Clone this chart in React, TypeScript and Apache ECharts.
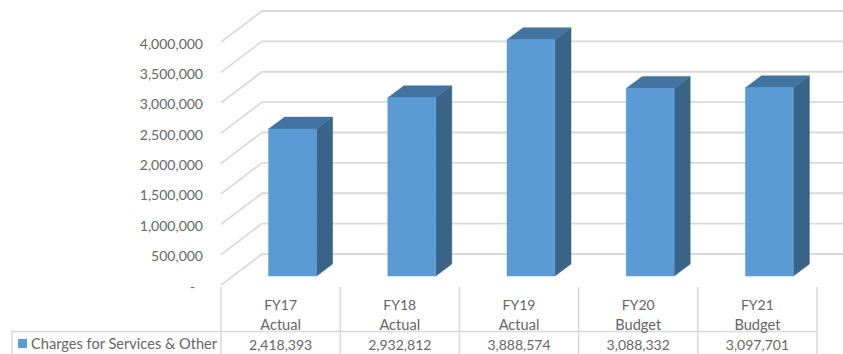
import React, { useEffect, useRef } from "react";
import * as echarts from "echarts";

const FONT = "Lato";
const TEXT = "#666666";
const RULE = "#D9D9D9";

const fiscalYears = ["FY17", "FY18", "FY19", "FY20", "FY21"];
const scenarios = ["Actual", "Actual", "Actual", "Budget", "Budget"];
const charges = [2418393, 2932812, 3888574, 3088332, 3097701];
const axisTicks = [0, 500000, 1000000, 1500000, 2000000, 2500000, 3000000, 3500000, 4000000];
const seriesName = "Charges for Services & Other";

const GRID = { left: 221, right: 26, top: 42, bottom: 67 };
// Perspective offsets of the 3D box: wall behind the front plane, bars between them.
const WALL = { dx: 41, dy: -31 };
const BAR = { dx: 12, dy: -9, width: 48, sideX: 16, sideY: -12 };

const face = (points: number[][], fill: string) => ({
  type: "polygon",
  shape: { points },
  style: { fill, stroke: fill, lineWidth: 0.5 },
});

const renderBar = (_: any, api: any) => {
  const [cx, top] = api.coord([api.value(0), api.value(1)]);
  const [, base] = api.coord([api.value(0), 0]);
  const l = cx + BAR.dx - BAR.width / 2;
  const r = l + BAR.width;
  const t = top + BAR.dy;
  const b = base + BAR.dy;
  const sx = BAR.sideX;
  const sy = BAR.sideY;
  return {
    type: "group",
    children: [
      face([[r, t], [r + sx, t + sy], [r + sx, b + sy], [r, b]], "#3A6388"),
      face([[l, t], [l + sx, t + sy], [r + sx, t + sy], [r, t]], "#4373A1"),
      face([[l, t], [r, t], [r, b], [l, b]], "#5B9BD5"),
    ],
  };
};

const renderWallLine = (_: any, api: any) => {
  const band = api.size([1, 0])[0];
  const [cx, y] = api.coord([0, api.value(1)]);
  const x = cx - band / 2;
  const bx = x + WALL.dx;
  const by = y + WALL.dy;
  return {
    type: "polyline",
    shape: { points: [[x, y], [bx, by], [bx + band * 5, by]] },
    style: { stroke: RULE, lineWidth: 1.8, fill: "none" },
    silent: true,
  };
};

export default function App() {
  const ref = useRef<HTMLDivElement>(null);

  useEffect(() => {
    const chart = echarts.init(ref.current!, undefined, { renderer: "svg" });
    chart.setOption({
      animation: false,
      backgroundColor: "#ffffff",
      textStyle: { fontFamily: FONT },
      grid: GRID,
      legend: {
        left: 18,
        top: 336,
        padding: 0,
        itemWidth: 9,
        itemHeight: 9,
        itemGap: 0,
        selectedMode: false,
        data: [{ name: seriesName, icon: "rect" }],
        textStyle: { fontFamily: FONT, fontSize: 14.6, color: TEXT, padding: [0, 0, 0, -1] },
      },
      xAxis: {
        type: "category",
        data: fiscalYears,
        axisLine: { show: false },
        axisTick: { show: false },
        axisLabel: {
          interval: 0,
          margin: 9,
          fontFamily: FONT,
          fontSize: 14,
          color: TEXT,
          lineHeight: 20,
          rich: {
            n: { fontFamily: FONT, fontSize: 14, color: TEXT, lineHeight: 20 },
            w: { fontFamily: FONT, fontSize: 14.6, color: TEXT, lineHeight: 20 },
          },
          formatter: (fy: string, i: number) =>
            `{n|${fy}}\n{w|${scenarios[i]}}\n{n|${charges[i].toLocaleString("en-US")}}`,
        },
      },
      yAxis: {
        type: "value",
        min: 0,
        max: 4000000,
        interval: 500000,
        axisLine: { show: false },
        axisTick: { show: false },
        splitLine: { show: false },
        axisLabel: {
          margin: 18,
          padding: [2, 0, 0, 0],
          fontFamily: FONT,
          fontSize: 14,
          color: TEXT,
          rich: {
            dash: { fontFamily: FONT, fontSize: 14, color: TEXT, padding: [0, 8, 0, 0] },
          },
          formatter: (v: number) => (v === 0 ? "{dash|-}" : v.toLocaleString("en-US")),
        },
      },
      series: [
        {
          type: "custom",
          name: "wall",
          clip: false,
          silent: true,
          renderItem: renderWallLine,
          data: axisTicks.map((v) => [0, v]),
          encode: { x: 0, y: 1 },
          z: 1,
        },
        {
          type: "custom",
          name: seriesName,
          clip: false,
          renderItem: renderBar,
          itemStyle: { color: "#5B9BD5" },
          data: charges.map((v, i) => [i, v]),
          encode: { x: 0, y: 1 },
          z: 2,
        },
      ],
      // Data table rules under the plot
      graphic: [
        ...[0, 1, 2, 3, 4, 5].map((i) => ({
          type: "line",
          silent: true,
          shape: { x1: 221 + i * 119.2, y1: 287, x2: 221 + i * 119.2, y2: 354 },
          style: { stroke: RULE, lineWidth: 1.5 },
        })),
        {
          type: "polyline",
          silent: true,
          shape: { points: [[12, 354], [12, 331.5], [817, 331.5]] },
          style: { stroke: RULE, lineWidth: 1.5, fill: "none" },
        },
      ],
    });
    return () => chart.dispose();
  }, []);

  return (
    <div
      ref={ref}
      style={{ position: "absolute", left: 0, top: 0, width: 843, height: 354 }}
    />
  );
}
